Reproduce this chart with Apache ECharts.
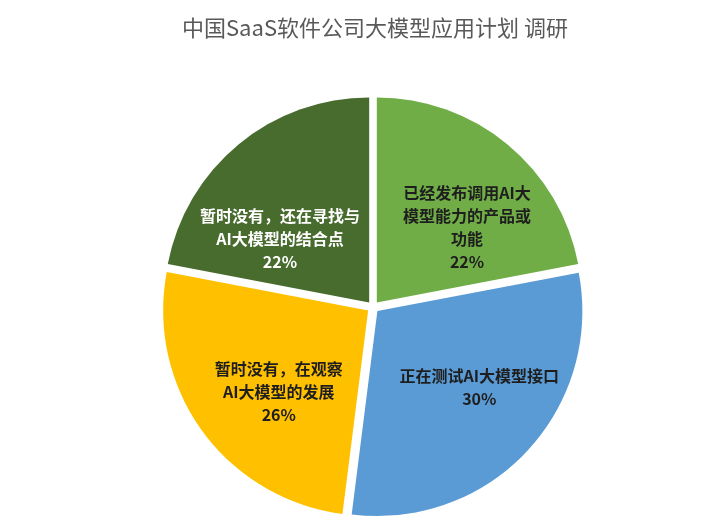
<!DOCTYPE html>
<html>
<head>
<meta charset="utf-8">
<script src="https://cdn.jsdelivr.net/npm/echarts@6/dist/echarts.min.js"></script>
<style>
  html, body { margin: 0; padding: 0; background: #fff; }
  #chart { width: 727px; height: 519px; }
</style>
</head>
<body>
<div id="chart"></div>
<script>
// Survey answers, clockwise from 12 o'clock
const categories = [
  '已经发布调用AI大\n模型能力的产品或\n功能',
  '正在测试AI大模型接口',
  '暂时没有，在观察\nAI大模型的发展',
  '暂时没有，还在寻找与\nAI大模型的结合点'
];
const shares = [22, 30, 26, 22];

// Slice fills and label text colours, in the same order
const sliceColors = ['#70ad47', '#5b9bd5', '#ffc000', '#486b2e'];
const labelColors = ['#1e1e1e', '#1e1e1e', '#1e1e1e', '#ffffff'];
// Small nudges so each label sits where it reads best inside its slice
const labelNudge = [[23, 6], [25, 4], [-4, 19], [-22, 18]];

const chart = echarts.init(document.getElementById('chart'), null, { renderer: 'canvas' });

chart.setOption({
  backgroundColor: '#ffffff',
  animation: false,
  title: {
    text: '中国SaaS软件公司大模型应用计划 调研',
    left: 177,
    top: 12,
    textStyle: {
      fontFamily: 'Noto Sans CJK SC',
      fontSize: 22,
      fontWeight: 'normal',
      color: '#595959'
    }
  },
  series: [{
    type: 'pie',
    center: [373, 307],
    radius: [0, 205],
    startAngle: 90,
    clockwise: true,
    selectedMode: 'multiple',
    selectedOffset: 6,
    avoidLabelOverlap: false,
    emphasis: { disabled: true },
    label: {
      show: true,
      position: 'inside',
      formatter: '{b}\n{c}%',
      fontFamily: 'Noto Sans CJK SC',
      fontSize: 16,
      fontWeight: 'bold',
      lineHeight: 23,
      align: 'center'
    },
    labelLine: { show: false },
    labelLayout: function (params) {
      const n = labelNudge[params.dataIndex];
      return { dx: n[0], dy: n[1] };
    },
    data: categories.map(function (name, i) {
      return {
        name: name,
        value: shares[i],
        selected: true,
        itemStyle: { color: sliceColors[i] },
        label: { color: labelColors[i] }
      };
    })
  }]
});
</script>
</body>
</html>
